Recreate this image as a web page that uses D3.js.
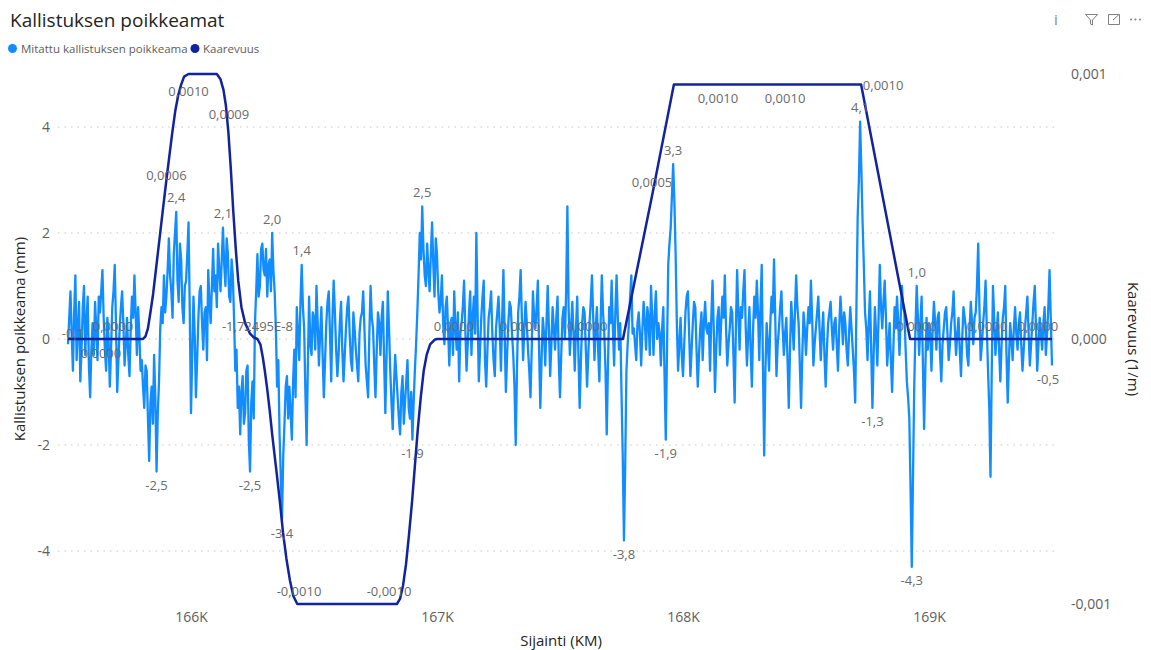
<!DOCTYPE html>
<html>
<head>
<meta charset="utf-8">
<script src="https://cdn.jsdelivr.net/npm/d3@7"></script>
<style>
  body { margin: 0; background: #fff; }
  svg { display: block; font-family: "Open Sans", "Noto Sans", sans-serif; }
</style>
</head>
<body>
<svg id="chart" width="1151" height="650"></svg>
<script>
// ---------------- DATA ----------------
// Positions (m) of the measured deviation, every 5 m from 165 500 to 169 500
const sijainti = d3.range(165500, 169501, 5);

// Mitattu kallistuksen poikkeama (mm) (20 values per 100 m)
const poikkeama = [
  -0.1, 0.4, 0.9, 0.1, -0.6, 0.5, 1.2, -0.4, 0.2, 0.7, -0.8, -0.2, 0.6, 1.0, -0.3, 0.3, 0.8, -0.5, -1.1, -0.2,
  0.3, -0.3, 0.7, 0.2, -0.4, 0.8, 0.5, 0.9, 1.3, 0.4, -0.2, -0.6, 0.4, 0.0, -0.9, -0.2, 0.6, 0.9, 1.4, 0.3,
  -1.0, -0.4, 0.2, 0.6, 0.9, 0.3, -0.5, -0.1, 0.4, -0.3, -0.7, 0.2, 0.8, 0.4, 1.2, 0.5, -0.3, 0.6, 0.1, -0.6,
  -0.4, -0.9, -1.3, -0.5, -0.6, -1.5, -2.3, -1.2, -0.9, -1.6, -0.3, -1.1, -2.5, -1.4, -0.8, 0.2, 0.6, 0.3, 1.2, 0.5,
  0.8, 1.3, 1.9, 1.2, 0.9, 0.4, 1.6, 2.0, 2.4, 1.1, 0.7, 1.8, 1.5, 0.6, 0.3, 1.0, 1.1, 1.6, 2.2, 0.5,
  -1.4, -0.3, 0.8, 0.1, -1.1, -0.4, 0.4, 0.9, 1.0, 0.3, -0.2, 0.5, 0.6, -0.4, 1.3, 0.7, 0.3, 1.0, 1.7, 0.9,
  1.2, 0.6, 1.8, 1.3, 0.9, 1.5, 2.1, 1.4, 1.0, 1.9, 1.6, 0.8, 0.7, 1.5, 1.2, 0.4, -0.6, -0.2, -1.3, -0.9,
  -1.8, -1.0, -0.7, -1.6, -1.4, -0.6, -0.5, -1.9, -2.5, -1.2, -0.8, -1.5, 0.3, 0.9, 1.6, 0.8, 1.0, 1.7, 1.8, 1.3,
  1.2, 1.7, 0.8, 1.4, 1.5, 0.9, 2.0, 1.3, 0.9, 0.2, -0.9, -0.4, -1.8, -2.6, -3.4, -2.2, -1.6, -0.9, -0.7, -1.5,
  -0.9, -1.4, -1.9, -0.8, -0.2, -1.1, 0.6, 0.1, -0.4, 0.7, 1.4, 0.6, 0.2, -1.0, -2.0, -0.5, 0.8, -0.1, -0.3, 0.5,
  0.4, -0.2, 1.0, 0.3, -0.5, 0.1, 0.6, -0.3, -1.1, -0.4, 0.3, 0.7, 0.9, 0.1, -0.8, 0.4, 1.1, 0.5, -0.2, -0.7,
  -0.3, 0.3, 0.7, -0.2, -0.8, -0.3, 0.2, 0.6, 0.8, 0.1, -0.4, -0.6, 0.5, 0.2, -0.2, -0.5, -0.8, 0.1, 0.4, 0.5,
  0.9, 0.2, -0.5, -0.8, -1.1, 0.1, 1.0, 0.4, 0.2, -0.5, -1.1, -0.2, 0.5, 0.3, -0.3, 0.4, 0.7, -0.4, -1.4, -0.3,
  0.9, 0.2, -0.6, -1.2, -1.7, -0.9, -0.3, -0.7, -1.1, -1.5, -1.8, -1.0, -0.7, -1.6, -1.2, -0.8, -0.4, -1.3, -1.5, -1.0,
  -1.9, -1.2, -0.6, -0.1, 0.5, 1.2, 2.0, 1.5, 2.5, 1.7, 1.2, 1.0, 1.8, 1.3, 0.9, 1.6, 2.2, 1.4, 0.8, 1.9,
  1.6, 0.9, 0.5, 0.7, 1.2, 0.3, -0.1, 0.6, 0.8, 0.2, -0.5, 0.3, 0.4, -0.3, 0.9, 0.2, -0.2, 0.5, -0.8, 0.1,
  0.3, 0.6, 1.1, 0.2, -0.6, -0.1, 0.5, 0.9, -0.3, 0.4, 0.8, 0.1, 2.0, 0.5, -0.8, -0.2, 0.4, 0.8, 1.1, -0.4,
  -0.9, -0.2, 0.4, 0.6, 0.9, 0.1, -0.4, -0.7, 0.2, 0.5, 0.8, 0.2, -0.6, 0.4, 1.3, 0.1, -1.0, -0.3, 0.3, 0.7,
  0.6, 0.1, -0.3, -0.9, -2.0, -0.6, 0.5, 0.8, 1.3, 0.4, -0.4, 0.2, 0.7, 0.3, -0.2, -0.6, -1.1, -0.2, 0.9, 0.4,
  0.2, 0.6, 1.1, -0.2, -1.3, -0.4, 0.4, 0.1, -0.5, 0.3, 1.0, 0.2, -0.7, -0.1, 0.6, 0.2, -0.2, 0.4, 0.8, -0.4,
  -1.1, -0.3, 0.4, 0.6, 0.0, 0.9, 2.5, 0.6, -0.3, 0.2, 0.7, 0.1, -0.6, 0.2, 0.8, -0.3, -1.3, -0.4, 0.3, 0.6,
  0.5, -0.2, -0.9, -0.3, 0.3, 0.7, 1.2, 0.4, -0.4, 0.2, 0.6, -0.2, -0.8, 0.3, 1.2, 0.5, 0.1, -0.6, -1.8, -0.5,
  0.6, 0.3, 1.1, 0.2, -0.5, 0.5, 1.2, 0.4, -0.2, 0.3, -1.0, -2.2, -3.8, -2.4, -0.6, -0.1, 0.3, 0.8, 1.2, 0.1,
  0.2, -0.1, -0.4, 0.3, 0.5, 0.1, -0.5, 0.2, 0.7, 0.3, -0.2, 0.6, 0.4, -0.3, 1.0, 0.4, -0.3, 0.5, 0.9, 0.0,
  0.3, 0.1, -0.5, 0.2, 0.6, -0.7, -1.9, -0.2, 1.4, 1.8, 2.1, 2.7, 3.3, 2.6, 1.6, 0.3, -0.6, -0.1, 0.4, -0.3,
  -0.7, -0.1, 0.5, 0.8, 0.9, 0.1, -0.7, -0.2, 0.3, 0.7, 0.6, -0.2, -0.9, -0.3, 0.2, 0.5, -0.4, 0.3, 0.7, 0.2,
  0.1, 0.3, -0.6, 0.4, 1.1, 0.2, -1.0, -0.2, 0.4, 0.6, -0.3, 0.3, 0.8, 0.4, 1.2, 0.2, -0.5, -0.1, 0.2, 0.6,
  0.5, -0.3, -1.2, 0.2, 1.3, 0.5, -0.2, 0.6, 0.4, 0.9, 1.3, 0.2, -0.5, 0.1, 0.6, -0.2, -0.9, 0.2, 0.8, 0.4,
  1.1, 0.5, -0.4, 0.6, 1.4, -0.5, -2.2, -0.6, 0.3, -0.1, -0.6, 0.3, 0.8, 0.5, 1.5, 0.4, -0.7, -0.1, 0.2, 0.6,
  0.9, 0.2, -0.3, 0.1, 0.4, -0.4, -1.3, -0.2, 0.7, 0.3, -0.2, 0.5, 1.2, 0.6, 0.3, -0.5, -1.3, -0.3, 0.5, 0.2,
  -0.3, 0.2, 0.6, 0.3, 1.1, 0.4, -0.5, -0.1, 0.2, 0.5, 0.8, 0.2, -0.4, 0.1, 0.5, -0.3, -0.9, -0.2, 0.3, 0.5,
  0.7, 0.2, -0.2, 0.3, 0.4, -0.1, -0.6, 0.2, 0.8, 0.4, -0.1, 0.5, 0.3, -0.2, -0.5, 0.1, 0.6, 0.2, -0.2, -0.6,
  -1.2, 0.6, 2.3, 3.0, 4.1, 3.2, 2.2, 1.4, 0.5, 0.2, -0.4, 0.3, 0.9, -0.2, -1.3, -0.3, 0.6, 0.1, -0.5, 0.4,
  1.4, 0.6, 0.2, 0.7, 1.1, 0.4, -0.5, -0.1, 0.3, -0.4, -1.0, -0.2, 0.6, 0.2, 0.8, 0.3, -0.3, 0.4, 1.0, 0.6,
  0.5, -0.2, -0.8, -1.1, -1.5, -2.8, -4.3, -2.6, -0.9, 0.2, 1.0, 0.4, -0.3, 0.3, 0.8, -0.4, -1.7, -0.6, 0.4, -0.2,
  0.3, 0.1, -0.6, 0.2, 0.7, 0.3, -0.2, 0.4, 0.5, -0.3, -0.8, -0.1, 0.2, 0.5, 0.6, 0.1, -0.4, -0.1, 0.3, 0.5,
  0.9, 0.2, -0.3, 0.1, 0.4, -0.2, -0.7, 0.0, 0.6, 0.4, 0.2, -0.3, -0.5, 0.2, 0.7, 0.3, -0.1, 0.4, 0.5, 1.0,
  1.8, 0.6, -0.4, -0.1, 0.3, 0.6, 1.1, 0.2, -0.6, -1.3, -2.6, -0.6, 1.0, 0.4, -0.3, 0.1, 0.5, -0.2, -0.8, -0.1,
  0.4, 0.6, 1.0, -0.3, -1.2, -0.4, 0.3, 0.0, -0.4, 0.2, 0.6, 0.1, -0.2, 0.3, 0.5, -0.1, -0.6, -0.2, 0.2, 0.5,
  0.8, 0.1, -0.5, -0.1, 0.3, 0.7, 1.0, 0.2, -0.6, -0.1, 0.4, 0.1, -0.2, 0.3, 0.6, -0.3, 0.1, 0.6, 1.3, 0.4,
  -0.5
];

// Kaarevuus (1/m): positions (m) and values
const kaarevuusKm = [
  165500, 165634, 165683, 165805, 165815, 165825, 165835, 165846, 165856, 165866,
  165876, 165886, 165900, 165912, 165924, 165936, 165948, 165960, 165972, 165990,
  166105, 166120, 166132, 166142, 166152, 166162, 166172, 166182, 166192, 166205,
  166220, 166240, 166255, 166270, 166282, 166292, 166300, 166310, 166320, 166330,
  166340, 166350, 166362, 166374, 166388, 166402, 166416, 166432, 166439, 166805,
  166837, 166850, 166862, 166874, 166886, 166898, 166910, 166922, 166934, 166946,
  166958, 166972, 166990, 167000, 167069, 167337, 167610, 167756, 167874, 167963,
  168142, 168415, 168724, 168923, 168950, 169236, 169443, 169500
];
const kaarevuus = [
  0, 0, 0, 0, 0.00001, 0.00004, 0.0001, 0.00017, 0.00025, 0.00033,
  0.00041, 0.00049, 0.0006, 0.00069, 0.00078, 0.00086, 0.00092, 0.00096, 0.00099, 0.001,
  0.001, 0.00098, 0.00094, 0.00088, 0.00078, 0.00064, 0.00048, 0.00034, 0.00022, 0.00012,
  0.00006, 0.00002, 0.000006, -0.0000000172495, -0.00002, -0.00007, -0.00012, -0.00019, -0.00027, -0.00036,
  -0.00044, -0.00052, -0.00062, -0.00073, -0.00083, -0.00091, -0.00097, -0.001, -0.001, -0.001,
  -0.001, -0.00098, -0.00093, -0.00085, -0.00074, -0.00062, -0.00048, -0.00034, -0.00022, -0.00012,
  -0.00006, -0.00002, -0.000003, 0, 0, 0, 0, 0, 0.00054, 0.00096,
  0.00096, 0.00096, 0.00096, 0, 0, 0, 0, 0
];

// Points that carry a data label
const poikkeamaLabelKm = [165500, 165860, 165940, 166130, 166240, 166330, 166370, 166450, 166900,
  166940, 167760, 167930, 167960, 168720, 168770, 168930, 168950, 169500];
const kaarevuusLabelKm = [165634, 165683, 165900, 165990, 166142, 166270, 166439, 166805, 167069,
  167337, 167610, 167874, 168142, 168415, 168724, 168950, 169236, 169443];

// Axis ticks
const xTicks = [166000, 167000, 168000, 169000];
const yLeftTicks = [-4, -2, 0, 2, 4];
const yRightTicks = [-0.001, 0, 0.001];

const title = "Kallistuksen poikkeamat";
const seriesNames = ["Mitattu kallistuksen poikkeama", "Kaarevuus"];

// ---------------- DRAWING ----------------
const C_MEAS = "#118DFF", C_CURV = "#12239E";
const svg = d3.select("#chart");
const fi = d3.formatLocale({decimal: ",", thousands: "\u00a0", grouping: [3], currency: ["", " €"], minus: "-"});
const f1 = fi.format(".1f"), f3 = fi.format(".3f"), f4 = fi.format(".4f");
const fmtCurv = v => (v !== 0 && Math.abs(v) < 1e-6)
  ? v.toExponential(5).replace(".", ",").replace("e", "E") : f4(v);

const x = d3.scaleLinear().domain([165500, 169500]).range([68, 1052]);
const yL = d3.scaleLinear().domain([-5, 5]).range([604, 74]);
const yR = d3.scaleLinear().domain([-0.001, 0.001]).range([604, 74]);

// Title
svg.append("text").attr("x", 10).attr("y", 27).text(title)
  .attr("font-size", 19).attr("fill", "#252423");

// Legend
const leg = svg.append("g");
[[12.5, 21, seriesNames[0], C_MEAS], [195, 203, seriesNames[1], C_CURV]].forEach(([cx, tx, t, c]) => {
  leg.append("circle").attr("cx", cx).attr("cy", 48.5).attr("r", 4.5).attr("fill", c);
  leg.append("text").attr("x", tx).attr("y", 52.5).text(t).attr("font-size", 11.5).attr("fill", "#605E5C");
});

// Header icons
const ic = svg.append("g").attr("fill", "none").attr("stroke", "#808080").attr("stroke-width", 1);
svg.append("text").attr("x", 1056).attr("y", 25).attr("text-anchor", "middle").text("i")
  .attr("font-size", 15).attr("fill", "#7a8aa0");
ic.append("path").attr("d", "M1085.5,14.5 L1097.5,14.5 L1092.5,20 L1092.5,25 L1090.5,24 L1090.5,20 Z");
ic.append("path").attr("d", "M1116,14.5 L1108.5,14.5 L1108.5,24.5 L1119.5,24.5 L1119.5,18");
ic.append("path").attr("d", "M1113,20 L1119,14.5 M1115.5,14.5 L1119.5,14.5 L1119.5,18.5");
[1131, 1135.5, 1140].forEach(cx => svg.append("circle").attr("cx", cx).attr("cy", 19.5).attr("r", 1).attr("fill", "#808080"));

// Gridlines
svg.append("g").selectAll("line").data(yLeftTicks).join("line")
  .attr("x1", 58).attr("x2", 1058).attr("y1", d => yL(d)).attr("y2", d => yL(d))
  .attr("stroke", "#C8C6C4").attr("stroke-width", 1).attr("stroke-dasharray", "1.5,5");

// Left axis
const axL = svg.append("g").attr("transform", "translate(50,0)")
  .call(d3.axisLeft(yL).tickValues(yLeftTicks).tickSize(0).tickPadding(0).tickFormat(d => fi.format("d")(d)));
axL.select(".domain").remove();
axL.selectAll("text").attr("font-size", 14).attr("fill", "#605E5C").attr("font-family", "Open Sans");

// Right axis
const axR = svg.append("g").attr("transform", "translate(1071,0)")
  .call(d3.axisRight(yR).tickValues(yRightTicks).tickSize(0).tickPadding(0).tickFormat(d => f3(d)));
axR.select(".domain").remove();
axR.selectAll("text").attr("font-size", 14).attr("fill", "#605E5C").attr("font-family", "Open Sans");

// X axis
const axX = svg.append("g").attr("transform", "translate(0,612)")
  .call(d3.axisBottom(x).tickValues(xTicks).tickSize(0).tickPadding(0).tickFormat(d => (d / 1000) + "K"));
axX.select(".domain").remove();
axX.selectAll("text").attr("font-size", 14).attr("fill", "#605E5C").attr("font-family", "Open Sans");

// Axis titles
svg.append("text").attr("transform", "translate(25,339) rotate(-90)").attr("text-anchor", "middle")
  .text("Kallistuksen poikkeama (mm)").attr("font-size", 15).attr("fill", "#252423");
svg.append("text").attr("transform", "translate(1128,339) rotate(90)").attr("text-anchor", "middle")
  .text("Kaarevuus (1/m)").attr("font-size", 15).attr("fill", "#252423");
svg.append("text").attr("x", 561).attr("y", 646).attr("text-anchor", "middle")
  .text("Sijainti (KM)").attr("font-size", 15).attr("fill", "#252423");

// Lines
const measData = sijainti.map((k, i) => [k, poikkeama[i]]);
const curvData = kaarevuusKm.map((k, i) => [k, kaarevuus[i]]);
svg.append("path").datum(measData)
  .attr("d", d3.line().x(d => x(d[0])).y(d => yL(d[1])))
  .attr("fill", "none").attr("stroke", C_MEAS).attr("stroke-width", 2.3).attr("stroke-linejoin", "round");
svg.append("path").datum(curvData)
  .attr("d", d3.line().x(d => x(d[0])).y(d => yR(d[1])))
  .attr("fill", "none").attr("stroke", C_CURV).attr("stroke-width", 2.5).attr("stroke-linejoin", "round");

// Data labels
const lab = svg.append("g").attr("font-size", 13).attr("fill", "#6b6b6b").attr("text-anchor", "middle");
const measOffset = { 165500: [5, -11], 169500: [-4, 14] };
poikkeamaLabelKm.forEach(k => {
  const v = poikkeama[sijainti.indexOf(k)];
  const [dx, dy] = measOffset[k] || [0, v >= 0 ? -14 : 14];
  lab.append("text").attr("x", x(k) + dx).attr("y", yL(v) + dy).attr("dy", "0.35em").text(f1(v));
});
const curvOffset = { 165634: [0, 14], 165900: [0, -5], 165990: [0, 17], 166142: [3, 9],
  168142: [0, 14], 168415: [0, 14], 168724: [22, 1] };
kaarevuusLabelKm.forEach(k => {
  const v = kaarevuus[kaarevuusKm.indexOf(k)];
  const [dx, dy] = curvOffset[k] || [0, -13];
  lab.append("text").attr("x", x(k) + dx).attr("y", yR(v) + dy).attr("dy", "0.35em").text(fmtCurv(v));
});
</script>
</body>
</html>
